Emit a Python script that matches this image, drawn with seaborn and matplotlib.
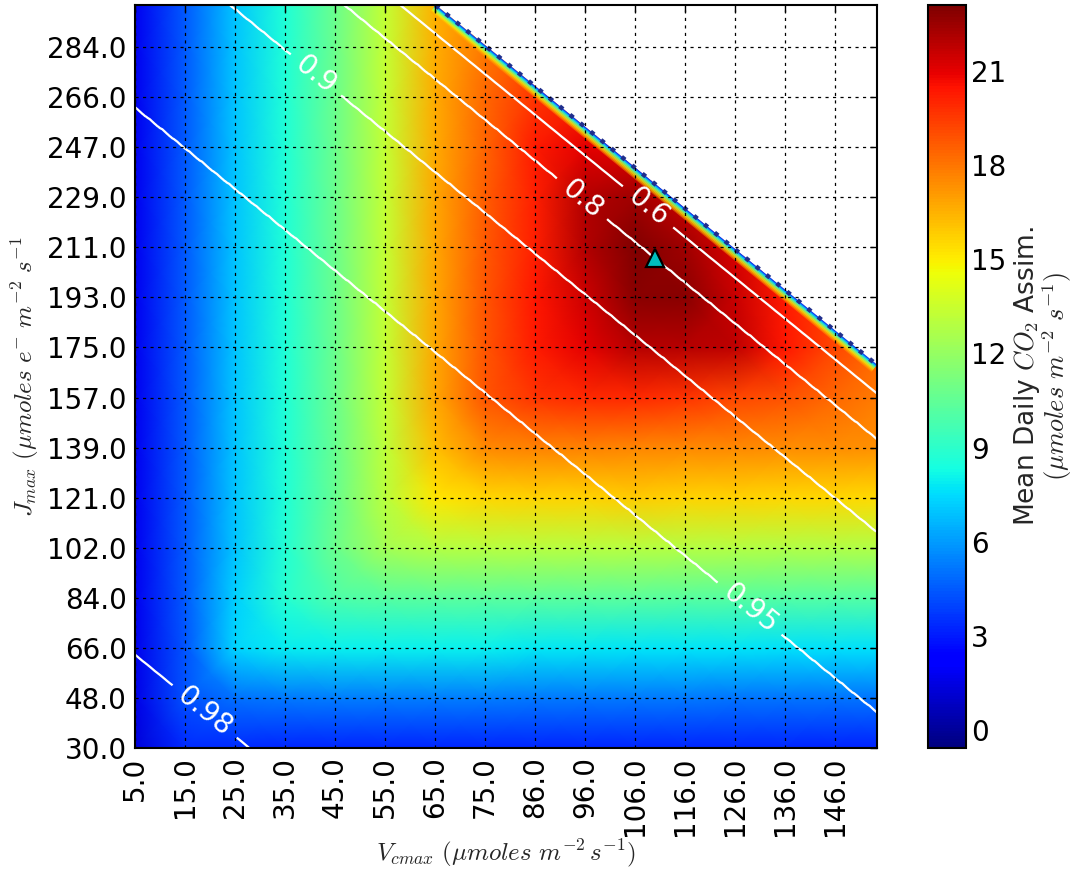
import numpy as np
import matplotlib
matplotlib.use("Agg")
import matplotlib.pyplot as plt
import matplotlib.transforms as mtransforms
from matplotlib.patches import Polygon
import seaborn as sns

# ---------------- data ----------------
vcmax_nodes = [5.0, 15.1, 25.3, 35.4, 45.5, 55.7, 65.8, 75.9, 86.0, 96.2,
               106.3, 116.4, 126.6, 136.7, 146.8, 156.9]
jmax_nodes = [30.0, 48.1, 66.2, 84.4, 102.5, 120.6, 138.7, 156.8, 175.0,
              193.1, 211.2, 229.3, 247.4, 265.6, 283.7, 301.8]
vcmax_ticklabels = ["5.0", "15.0", "25.0", "35.0", "45.0", "55.0", "65.0", "75.0",
                    "86.0", "96.0", "106.0", "116.0", "126.0", "136.0", "146.0"]
jmax_ticklabels = ["30.0", "48.0", "66.0", "84.0", "102.0", "121.0", "139.0", "157.0",
                   "175.0", "193.0", "211.0", "229.0", "247.0", "266.0", "284.0"]

# mean daily CO2 assimilation, rows = Jmax nodes (bottom→top), cols = Vcmax nodes
assim_J030 = [1.3, 3.4, 3.4, 3.3, 3.3, 3.3, 3.3, 3.3, 3.3, 3.3, 3.3, 3.3, 3.3, 3.3, 3.2, 3.2]
assim_J048 = [1.6, 4.3, 5.0, 5.2, 5.3, 5.3, 5.3, 5.3, 5.2, 5.2, 5.2, 5.2, 5.1, 5.1, 5.1, 5.1]
assim_J066 = [1.7, 4.4, 7.3, 7.9, 8.0, 8.0, 8.0, 8.0, 7.8, 7.8, 7.7, 7.7, 7.7, 7.6, 7.6, 7.6]
assim_J084 = [1.8, 4.5, 7.2, 8.8, 9.9, 10.2, 10.3, 10.3, 10.3, 10.3, 10.3, 10.2, 10.2, 10.1, 10.1, 10.1]
assim_J102 = [1.8, 4.5, 7.0, 8.7, 10.8, 12.4, 12.9, 13.0, 13.0, 13.0, 13.0, 12.9, 12.9, 12.8, 12.8, 12.8]
assim_J121 = [1.8, 4.5, 7.0, 8.6, 10.7, 13.1, 15.2, 15.6, 15.7, 15.7, 15.8, 15.7, 15.7, 15.6, 15.6, 15.5]
assim_J139 = [1.8, 4.5, 7.0, 8.6, 10.7, 13.2, 16.2, 17.5, 17.7, 17.7, 17.6, 17.5, 17.5, 17.4, 17.4, 17.3]
assim_J157 = [1.8, 4.5, 7.0, 8.6, 10.8, 13.3, 16.8, 18.8, 19.6, 19.9, 19.9, 19.6, 19.2, 18.9, 18.3, 17.8]
assim_J175 = [1.8, 4.5, 7.0, 8.6, 10.8, 13.3, 16.8, 18.8, 20.3, 21.0, 21.9, 21.9, 21.8, 20.4, 19.2, 18.2]
assim_J193 = [1.8, 4.5, 7.0, 8.6, 10.8, 13.3, 16.8, 18.8, 20.4, 21.5, 22.9, 22.9, 21.6, 20.3, 19.2, 18.2]
assim_J211 = [1.8, 4.5, 7.0, 8.6, 10.8, 13.3, 16.8, 18.7, 20.2, 22.0, 23.1, 22.4, 21.2, 20.2, 19.2, 18.2]
assim_J229 = [1.8, 4.5, 7.0, 8.6, 10.8, 13.3, 16.8, 18.6, 20.2, 22.0, 22.4, 21.5, 20.5, 19.5, 18.5, 17.5]
assim_J247 = [1.8, 4.5, 7.0, 8.6, 10.8, 13.3, 16.7, 18.4, 20.3, 21.0, 21.0, 20.5, 20.0, 19.5, 18.5, 17.5]
assim_J266 = [1.8, 4.5, 7.0, 8.6, 10.8, 13.3, 16.7, 18.3, 19.6, 20.0, 20.5, 20.0, 19.5, 19.0, 18.0, 17.0]
assim_J284 = [1.8, 4.5, 7.0, 8.6, 10.8, 13.3, 16.6, 18.0, 19.0, 19.5, 20.0, 19.5, 19.0, 18.5, 17.5, 17.0]
assim_J302 = [1.8, 4.5, 7.0, 8.6, 10.8, 13.3, 16.5, 17.8, 18.5, 19.0, 19.5, 19.0, 18.5, 18.0, 17.5, 17.0]

color_min, color_max = -0.57, 23.1
cbar_ticks = [0, 3, 6, 9, 12, 15, 18, 21]

# iso-lines of the remaining fraction (straight, parallel lines)
iso_levels = [0.98, 0.95, 0.9, 0.8, 0.6]
iso_J_at_vmin = [63.7, 262.0, 327.1, 360.8, 377.1]   # Jmax where each line meets Vcmax=5
feasible_J_at_vmin = 387.6                            # edge of the feasible (coloured) region
iso_slope = -1.456                                    # dJmax / dVcmax
iso_label_pos = [(19.2, 43.4), (129.6, 80.7), (42.1, 274.6), (95.8, 229.4), (108.9, 225.8)]

optimum_vcmax, optimum_jmax = 110.4, 207.5

x_limits = (5.0, 155.3)
y_limits = (30.0, 298.9)

# ---------------- figure ----------------
sns.set_theme(style="white")
plt.rcParams["font.family"] = ["DejaVu Sans"]
plt.rcParams["mathtext.fontset"] = "cm"

fig = plt.figure(figsize=(10.83, 8.74), dpi=100)
ax = fig.add_axes([135 / 1083, 1 - 748 / 874, 742 / 1083, 743 / 874])
cax = fig.add_axes([928 / 1083, 1 - 748 / 874, 38 / 1083, 743 / 874])

cmap = matplotlib.colormaps["jet"]
assim = np.array([assim_J030, assim_J048, assim_J066, assim_J084, assim_J102, assim_J121,
                  assim_J139, assim_J157, assim_J175, assim_J193, assim_J211, assim_J229,
                  assim_J247, assim_J266, assim_J284, assim_J302])
mesh = ax.pcolormesh(vcmax_nodes, jmax_nodes, assim, shading="gouraud", cmap=cmap,
                     vmin=color_min, vmax=color_max, zorder=0)

# feasible region polygon (below the edge line)
v_top = x_limits[0] + (y_limits[1] - feasible_J_at_vmin) / iso_slope
j_right = feasible_J_at_vmin + iso_slope * (x_limits[1] - x_limits[0])
clip = Polygon([(x_limits[0], y_limits[0]), (x_limits[1], y_limits[0]),
                (x_limits[1], j_right), (v_top, y_limits[1]),
                (x_limits[0], y_limits[1])], closed=True, transform=ax.transData)
mesh.set_clip_path(clip)

# blended edge of the feasible region (interpolation halo of the source image)
edge_v = [v_top, x_limits[1]]
edge_j = [y_limits[1], j_right]
nx, ny = -0.609, -0.794
edge_vals = [4.0, 7.0, 9.5, 12.0, 14.0, 15.5, 16.8]
for k, val in enumerate(edge_vals):
    off = 1.0 + 1.2 * k
    tr = mtransforms.offset_copy(ax.transData, fig=fig, x=nx * off, y=ny * off, units="dots")
    ax.plot(edge_v, edge_j, color=cmap((val - color_min) / (color_max - color_min)),
            lw=1.5, alpha=0.95 - 0.08 * k, transform=tr, solid_capstyle="butt",
            zorder=1, clip_on=True)
tr0 = mtransforms.offset_copy(ax.transData, fig=fig, x=nx * 0.3, y=ny * 0.3, units="dots")
ax.plot(edge_v, edge_j, color=(0.12, 0.18, 0.55), lw=3.2, ls=(0, (1.0, 2.0)),
        transform=tr0, zorder=1, clip_on=True)

# iso-lines via contour of the line-position field
vv, jj = np.meshgrid(np.linspace(x_limits[0], x_limits[1], 300),
                     np.linspace(y_limits[0], y_limits[1], 300))
pos = jj - iso_slope * (vv - x_limits[0])
field = np.interp(pos, [0.0] + iso_J_at_vmin + [feasible_J_at_vmin + 20],
                  [0.995] + iso_levels + [0.3])
cs = ax.contour(vv, jj, field, levels=sorted(iso_levels), colors="white",
                linewidths=1.6, zorder=2)
ax.clabel(cs, fmt="%g", manual=iso_label_pos, inline=True, inline_spacing=10,
          fontsize=20, colors="white")

ax.plot([optimum_vcmax], [optimum_jmax], marker="^", ms=13, color=(0.0, 0.75, 0.75),
        mec="black", mew=1.6, ls="none", zorder=4)

ax.set_xlim(*x_limits)
ax.set_ylim(*y_limits)
ax.set_xticks(vcmax_nodes[:15])
ax.set_xticklabels(vcmax_ticklabels, rotation=90)
ax.set_yticks(jmax_nodes[:15])
ax.set_yticklabels(jmax_ticklabels)
ax.tick_params(direction="in", length=5, width=1, top=True, right=True,
               labelsize=20, colors="black", pad=6)
ax.grid(True, color="black", ls=(0, (2.5, 3.5)), lw=0.9)
ax.set_axisbelow(False)
for sp in ax.spines.values():
    sp.set_color("black")
    sp.set_linewidth(1.5)
    sp.set_zorder(5)

ax.set_xlabel(r"$V_{cmax}\ (\mu moles\ m^{-2}\, s^{-1})$", fontsize=18, labelpad=1)
ax.set_ylabel(r"$J_{max}\ (\mu moles\ e^{-}\ m^{-2}\ s^{-1}$", fontsize=18, labelpad=4)

cb = fig.colorbar(mesh, cax=cax, ticks=cbar_ticks)
cb.outline.set_edgecolor("black")
cb.outline.set_linewidth(1.5)
cax.tick_params(direction="in", length=5, labelsize=20, colors="black", right=True, left=True)
cb.set_label("Mean Daily $CO_2$ Assim.\n" + r"$(\mu moles\ m^{-2}\ s^{-1})$", fontsize=19,
             labelpad=4, linespacing=0.95)

fig.savefig("out.png", dpi=100)
